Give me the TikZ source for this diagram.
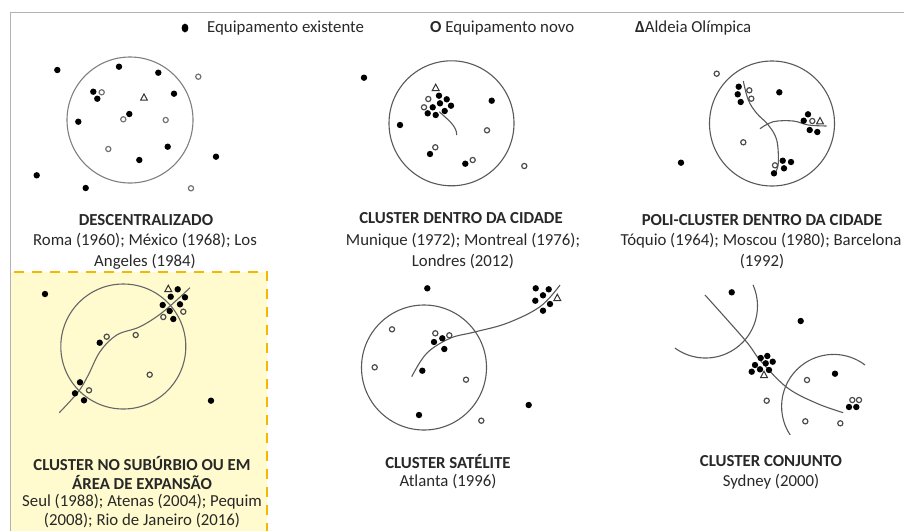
\documentclass[tikz,border=0pt]{standalone}
\usepackage{fontspec}
\setmainfont{Carlito}
\definecolor{dashyel}{RGB}{245,184,0}
\definecolor{paleyel}{RGB}{255,251,206}
\definecolor{txt}{RGB}{40,40,40}
\begin{document}
\begin{tikzpicture}[x=1pt,y=-1pt,
  lbl/.style={font=\fontsize{16.8}{20}\selectfont, text=txt, inner sep=0pt, anchor=center},
  ttl/.style={lbl, font=\fontsize{16.8}{20}\selectfont\bfseries},
  ring/.style={draw=black!65, line width=1.1pt},
  road/.style={draw=black!65, line width=1.1pt},
  exdot/.style={fill=black},
  nwdot/.style={draw=black!70, line width=1.2pt},
  tri/.pic={\draw[black!80, line width=1pt] (0,-3.8) -- (3.4,2.5) -- (-3.4,2.5) -- cycle;}]
\useasboundingbox (0,0) rectangle (904,531);
% frame
\draw[black!30, line width=0.8pt] (904,12.5) -- (10,12.5) -- (10,531);
% yellow panel
\fill[paleyel] (11,272) rectangle (267,531);
\draw[dashyel, line width=2.5pt, dash pattern=on 10pt off 8pt] (14,272) -- (267,272) -- (267,531);
% legend
\fill[black] (185,28) ellipse (3.4 and 4.4);
\node[lbl, anchor=west] (l1) at (207,28) {Equipamento existente};
\node[lbl, anchor=west] (l2) at (430,28) {\textbf{O} Equipamento novo};
\node[lbl, anchor=west] (l3) at (635,28) {\textbf{Δ}Aldeia Olímpica};
% ---------- panel 1
\draw[ring, draw=black!50] (130,120) circle (63);
\foreach \p in {(57.3,70),(119,66.7),(158.3,72.7),(93.3,91.7),(97.3,98.7),(174,93.7),(129.3,114),(78.3,121.7),(167.7,146.7),(139.3,160),(216,156.7),(36.7,175.3),(85.7,188)}
  \fill[exdot] \p circle (3.2);
\foreach \p in {(198.3,76.7),(101.7,92.3),(123.3,119.3),(165.7,120),(108.3,149),(191,188.3)}
  \draw[nwdot, draw=black!55] \p circle (2.6);
\pic at (144,97.7) {tri};
\node[ttl] (t1) at (146,220) {DESCENTRALIZADO};
\node[lbl] (s1a) at (145,241) {Roma (1960); México (1968); Los};
\node[lbl] (s1b) at (145,262) {Angeles (1984)};
% ---------- panel 2
\draw[ring] (451.5,123.3) circle (62.5);
\draw[road] (439.3,111.7) .. controls (447,119) and (457,126) .. (456.7,135);
\foreach \p in {(364,77.7),(439,95.7),(446.7,99.3),(451,105.7),(440,103.3),(432.7,107.3),(444.7,111),(427.7,113.3),(435.7,115),(491.7,100.7),(400,125),(430,154),(465.3,163.7)}
  \fill[exdot] \p circle (3.2);
\foreach \p in {(428.3,99),(424,107.3),(487,130.3),(435.3,147.3),(472.7,160),(524.3,166)}
  \draw[nwdot] \p circle (2.6);
\pic at (435.7,88) {tri};
\node[ttl] (t2) at (461,218) {CLUSTER DENTRO DA CIDADE};
\node[lbl] (s2a) at (463,241) {Munique (1972); Montreal (1976);};
\node[lbl] (s2b) at (463,262) {Londres (2012)};
% ---------- panel 3
\draw[ring] (772,123.5) circle (62.5);
\draw[road] plot[smooth, tension=0.6] coordinates {(743.3,81) (748.3,100) (756.7,113.3) (768.3,125) (776.7,140) (778.3,163.3) (775,173)};
\draw[road] plot[smooth, tension=0.6] coordinates {(760,128.7) (773.3,121.7) (793.3,121) (808.3,125) (826.7,126)};
\foreach \p in {(681,162.7),(779.3,92.3),(738.7,86.7),(737.7,94.3),(740.7,102),(808,114.3),(803.7,120.7),(809.7,130),(817.3,132),(782.7,160.7),(791,162),(784,168.3),(774,173.3)}
  \fill[exdot] \p circle (3.2);
\foreach \p in {(716.7,73.7),(743.3,142.3),(749.3,90.3),(751.3,98.7),(812.3,121),(775,165.3)}
  \draw[nwdot] \p circle (2.6);
\pic at (820,121.3) {tri};
\node[ttl] (t3) at (762,220) {POLI-CLUSTER DENTRO DA CIDADE};
\node[lbl] (s3a) at (761,241) {Tóquio (1964); Moscou (1980); Barcelona};
\node[lbl] (s3b) at (762,262) {(1992)};
% ---------- panel 4
\draw[ring, draw=black!60] (123.3,346.5) circle (62.5);
\draw[road, draw=black!60] plot[smooth, tension=0.6] coordinates {(59.3,412.7) (78.3,391.7) (88.3,375) (100,351.7) (116.7,335) (140,326.7) (163.3,311.7) (190,287.7)};
\foreach \p in {(45,294),(177.7,289.3),(170.7,296.7),(185,297.3),(162.7,305),(180,304.3),(169.7,311),(173.3,319),(99.7,342.7),(80,382.3),(75,393.3),(84,400.3),(211,400.7)}
  \fill[exdot] \p circle (3.2);
\foreach \p in {(183.3,311.7),(163.3,317),(106.7,336.7),(135.7,335),(149.7,374.7),(89,390.3)}
  \draw[nwdot] \p circle (2.6);
\pic at (168.3,289) {tri};
\node[ttl] (t4a) at (142,463) {CLUSTER NO SUBÚRBIO OU EM};
\node[ttl] (t4b) at (142,482) {ÁREA DE EXPANSÃO};
\node[lbl] (s4a) at (142,502) {Seul (1988); Atenas (2004); Pequim};
\node[lbl] (s4b) at (142,521) {(2008); Rio de Janeiro (2016)};
% ---------- panel 5
\draw[ring] (424,367.5) circle (62.5);
\draw[road] plot[smooth, tension=0.6] coordinates {(411.7,376.7) (426.7,353.3) (450,338.3) (473.3,332.3) (506.7,323.3) (540,306.7) (560,285)};
\foreach \p in {(427.3,288.3),(535.7,288.3),(548.7,289.3),(543,295.3),(535.3,300.7),(550,304),(543,310.7),(442.3,338.3),(434,342),(444.3,349),(422.3,370.7),(419,415),(528.7,405)}
  \fill[exdot] \p circle (3.2);
\foreach \p in {(392,329.3),(435.3,333.3),(449.3,335.3),(374.7,367.3),(466,379.7),(481.3,420.7)}
  \draw[nwdot] \p circle (2.6);
\pic at (557.3,298) {tri};
\node[ttl] (t5) at (448,461) {CLUSTER SATÉLITE};
\node[lbl] (s5) at (448,482) {Atlanta (1996)};
% ---------- panel 6
\draw[road] (705.5,306) ++(-24:52) arc[start angle=-24, end angle=126, radius=52];
\draw[road] (833.6,406.4) ++(146.7:52) arc[start angle=146.7, end angle=307.2, radius=52];
\draw[road] plot[smooth, tension=0.6] coordinates {(705,295) (745,340) (760,360) (786.7,387.3) (816.7,403.3) (843.3,412.7)};
\foreach \p in {(731.7,292.3),(800.7,321),(760.7,358),(767.3,356),(772.7,361.7),(755,365),(765.7,363.3),(760,369.3),(769,370),(751.7,371.7),(835,373.7),(849,407),(856.3,407)}
  \fill[exdot] \p circle (3.2);
\foreach \p in {(807,380),(766.7,400.7),(852.3,400),(859,400),(805.3,421.3),(840.3,423.3)}
  \draw[nwdot] \p circle (2.6);
\pic at (764,375) {tri};
\node[ttl] (t6) at (771,461) {CLUSTER CONJUNTO};
\node[lbl] (s6) at (771,482) {Sydney (2000)};
\end{tikzpicture}
\end{document}
